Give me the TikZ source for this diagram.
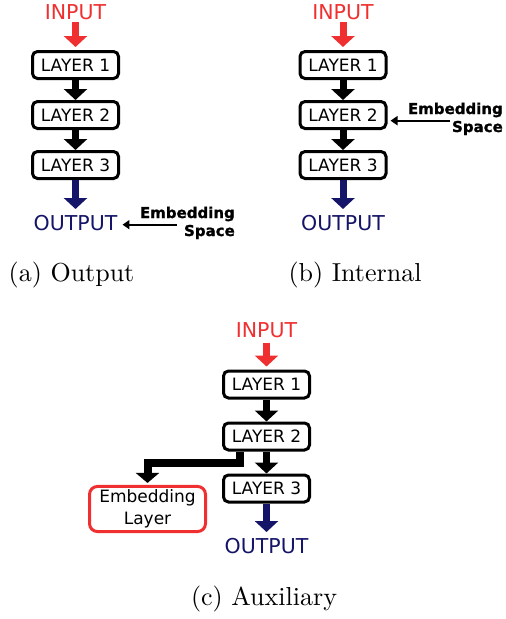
\documentclass[tikz,border=0pt]{standalone}
\usepackage{fontspec}
\setsansfont{DejaVu Sans}
\newfontfamily\heavyfont[FakeBold=1.2]{DejaVu Sans Bold}
\newfontfamily\capfont{lmroman10-regular.otf}
\usetikzlibrary{arrows.meta,positioning,calc}
\definecolor{inred}{RGB}{240,48,48}
\definecolor{outblue}{RGB}{20,20,104}

\begin{document}
\begin{tikzpicture}[x=1pt, y=-1pt, node distance=20pt, line join=miter]
\tikzstyle{layerbox}=[draw=black, fill=white, line width=3pt, rounded corners=5pt, minimum width=86pt, minimum height=27pt, inner sep=0pt, font=\sffamily\fontsize{17}{17}\selectfont]
\tikzstyle{io}=[inner sep=0pt, font=\sffamily\fontsize{20.5}{20.5}\selectfont]
\tikzstyle{emb}=[inner sep=0pt, font=\heavyfont\fontsize{15}{15}\selectfont]
\tikzstyle{embbox}=[draw=inred, line width=3pt, rounded corners=8pt, minimum width=116pt, minimum height=45pt, align=center, font=\sffamily\fontsize{17}{22}\selectfont]
\tikzstyle{subcap}=[font=\capfont\fontsize{26}{26}\selectfont]
\tikzstyle{fat}=[line width=7pt, -{Triangle[width=23pt,length=11pt]}]
\tikzstyle{bentarrow}=[line width=8pt, -{Triangle[width=23pt,length=10pt]}]
\tikzstyle{thinarrow}=[line width=2pt, -{Triangle[width=9pt,length=7pt]}]
\useasboundingbox (0,0) rectangle (506,619);

% (a) output
\node[layerbox] (a1) at (75.5,65) {LAYER 1};
\node[layerbox] (a2) [below=of a1] {LAYER 2};
\node[layerbox] (a3) [below=of a2] {LAYER 3};
\node[io, text=inred] (ain) [above=30pt of a1] {INPUT};
\node[io, text=outblue] (aout) [below=35pt of a3] {OUTPUT};
\node[emb, anchor=base east] (aemb) at (235,218) {Embedding};
\node[emb, anchor=base east] (asp) at (235,236) {Space};
\node[subcap] (capa) at (71.5,275) {(a) Output};
\draw[fat, inred, shorten <=2pt, shorten >=3pt] (ain) -- (a1);
\draw[fat] (a1) -- (a2);
\draw[fat] (a2) -- (a3);
\draw[fat, outblue, shorten >=6pt] (a3) -- (aout);
\draw[thinarrow, shorten <=7pt, shorten >=5pt] (asp.north west) -- (asp.north west -| aout.east);

% (b) internal
\node[layerbox] (b1) at (343,65) {LAYER 1};
\node[layerbox] (b2) [below=of b1] {LAYER 2};
\node[layerbox] (b3) [below=of b2] {LAYER 3};
\node[io, text=inred] (bin) [above=30pt of b1] {INPUT};
\node[io, text=outblue] (bout) [below=35pt of b3] {OUTPUT};
\node[emb, anchor=base east] (bemb) at (503,114) {Embedding};
\node[emb, anchor=base east] (bsp) at (503,132) {Space};
\node[subcap] (capb) at (355,275) {(b) Internal};
\draw[fat, inred, shorten <=2pt, shorten >=3pt] (bin) -- (b1);
\draw[fat] (b1) -- (b2);
\draw[fat] (b2) -- (b3);
\draw[fat, outblue, shorten >=6pt] (b3) -- (bout);
\draw[thinarrow, shorten <=2pt, shorten >=3pt] (bsp.north west) -- (bsp.north west -| b2.east);

% (c) auxiliary
\node[layerbox] (c1) at (266.5,384.5) {LAYER 1};
\node[layerbox] (c2) [below=22pt of c1] {LAYER 2};
\node[layerbox] (c3) [below=22pt of c2] {LAYER 3};
\node[io, text=inred] (cin) [above=32pt of c1] {INPUT};
\node[io, text=outblue] (cout) [below=34.5pt of c3] {OUTPUT};
\node[embbox] (cemb) at (147.5,509) {Embedding\\Layer};
\node[subcap] (capc) at (264,599) {(c) Auxiliary};
\coordinate (cbr) at ($(c2.south)!0.6!(c2.south west)$);
\draw[fat, inred, shorten <=5pt, shorten >=3pt] (cin) -- (c1);
\draw[fat] (c1) -- (c2);
\draw[fat] (c2) -- (c3);
\draw[fat, outblue, shorten >=6pt] (c3) -- (cout);
\draw[bentarrow, shorten >=2pt] (cbr) -- ++(0,11) -| (cemb.north);
\end{tikzpicture}
\end{document}
